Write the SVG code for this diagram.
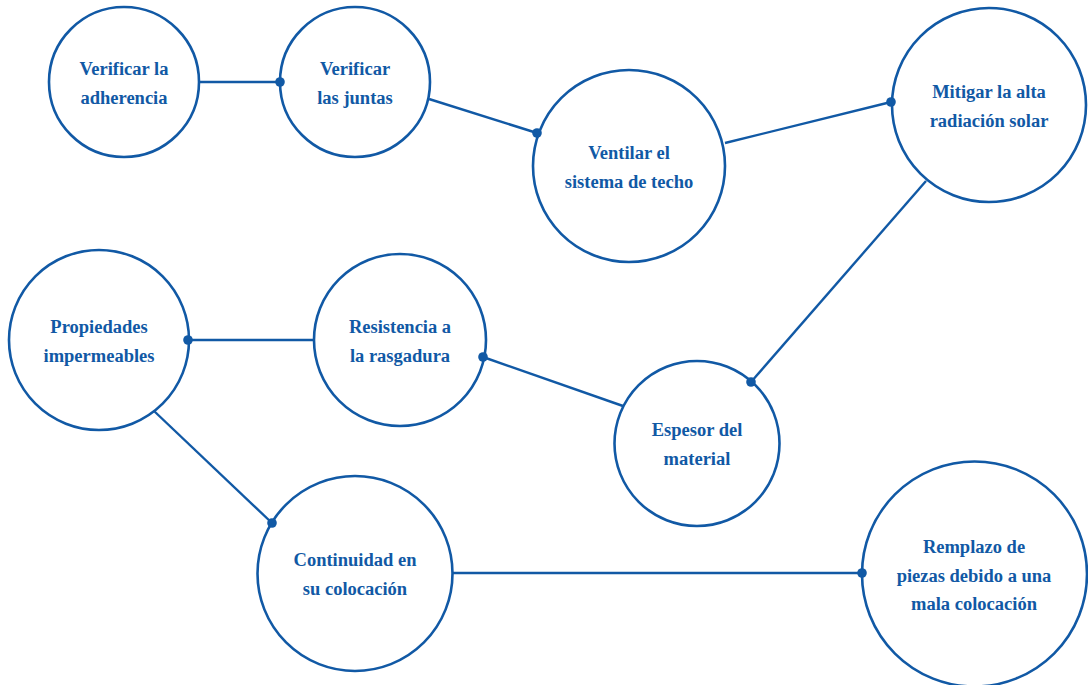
<svg xmlns="http://www.w3.org/2000/svg" width="1088" height="685" viewBox="0 0 1088 685">
<style>
.n{fill:#fff;stroke:#1159a5;stroke-width:2.6}
.t{font-family:'Liberation Serif','DejaVu Serif',serif;font-weight:700;font-size:18.5px;fill:#1159a5;text-anchor:middle}
.c line{stroke:#1159a5;stroke-width:2.4}
.c circle{fill:#1159a5}
</style>
<rect width="1088" height="685" fill="#fff"/>
<g id="n1"><circle class="n" cx="124" cy="82" r="75"/><text class="t" x="124" y="75">Verificar la</text><text class="t" x="124" y="104">adherencia</text></g>
<g id="n2"><circle class="n" cx="355" cy="82" r="75"/><text class="t" x="355" y="75">Verificar</text><text class="t" x="355" y="104">las juntas</text></g>
<g id="n3"><circle class="n" cx="629" cy="166" r="96"/><text class="t" x="629" y="159">Ventilar el</text><text class="t" x="629" y="188">sistema de techo</text></g>
<g id="n4"><circle class="n" cx="989" cy="105" r="97"/><text class="t" x="989" y="98">Mitigar la alta</text><text class="t" x="989" y="127">radiación solar</text></g>
<g id="n5"><circle class="n" cx="99" cy="340" r="90"/><text class="t" x="99" y="333">Propiedades</text><text class="t" x="99" y="362">impermeables</text></g>
<g id="n6"><circle class="n" cx="400" cy="340" r="86"/><text class="t" x="400" y="333">Resistencia a</text><text class="t" x="400" y="362">la rasgadura</text></g>
<g id="n7"><circle class="n" cx="697" cy="443.5" r="82.5"/><text class="t" x="697" y="436">Espesor del</text><text class="t" x="697" y="465">material</text></g>
<g id="n8"><circle class="n" cx="355" cy="573.5" r="97.5"/><text class="t" x="355" y="566">Continuidad en</text><text class="t" x="355" y="595">su colocación</text></g>
<g id="n9"><circle class="n" cx="974.5" cy="574" r="112.5"/><text class="t" x="974" y="553">Remplazo de</text><text class="t" x="974" y="582">piezas debido a una</text><text class="t" x="974" y="610">mala colocación</text></g>
<g class="c" id="connectors">
<line x1="200" y1="82" x2="280" y2="82"/><circle cx="280" cy="82" r="4.8"/>
<line x1="429" y1="99" x2="537" y2="133"/><circle cx="537" cy="133" r="4.8"/>
<line x1="725" y1="143" x2="891" y2="102"/><circle cx="891" cy="102" r="4.8"/>
<line x1="926" y1="181" x2="751" y2="382"/><circle cx="751" cy="382" r="4.8"/>
<line x1="188" y1="340" x2="314" y2="340"/><circle cx="188" cy="340" r="4.8"/>
<line x1="483" y1="357" x2="623" y2="406"/><circle cx="483" cy="357" r="4.8"/>
<line x1="154" y1="411" x2="272" y2="523"/><circle cx="272" cy="523" r="4.8"/>
<line x1="452" y1="573" x2="862" y2="573"/><circle cx="862" cy="573" r="4.8"/>
</g>
</svg>
